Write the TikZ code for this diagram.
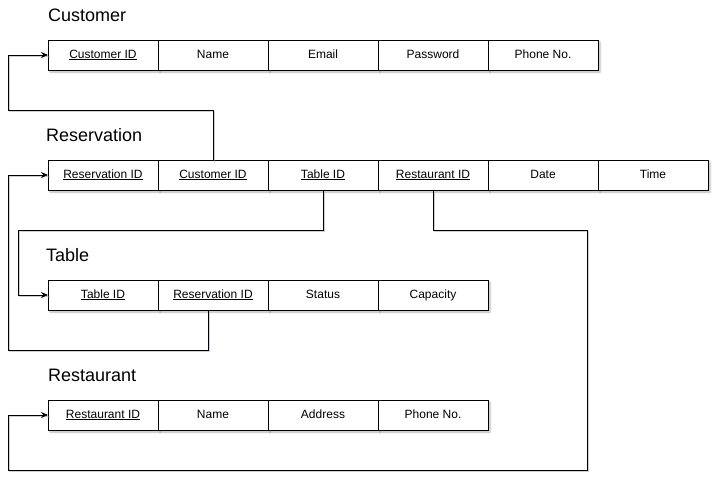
\documentclass[tikz,border=0pt]{standalone}
\usepackage{fontspec}
\setmainfont{Liberation Sans}
\usetikzlibrary{
    arrows.meta,
    positioning,
    shadows.blur
}
\definecolor{dark}{HTML}{000000}
\definecolor{shade}{HTML}{9CA3AF}
\newcommand{\pk}[1]{\underline{#1}}
\tikzset{
    % Attribute cell style
    attr/.style={
        rectangle,
        draw=dark,
        fill=white,
        line width=0.8pt,
        minimum width=110pt,
        minimum height=30pt,
        inner sep=0pt,
        outer sep=0pt,
        text height=8.6pt,
        text depth=2.4pt,
        font=\fontsize{12}{14}\selectfont,
        blur shadow={shadow xshift=2pt, shadow yshift=-2pt, shadow blur radius=2pt, shadow opacity=30}
    },
    % Entity title style
    entity title/.style={
        anchor=west,
        inner sep=0pt,
        font=\fontsize{18}{21}\selectfont,
        text=dark
    },
    % Foreign key connector
    fk/.style={
        -{Stealth[length=7pt, width=6pt]},
        line width=0.8pt,
        color=dark,
        preaction={draw=shade, draw opacity=0.5, line width=1.4pt, arrows=-,
            transform canvas={xshift=1.5pt, yshift=-1.5pt}}
    }
}

\begin{document}
\begin{tikzpicture}[x=1pt, y=-1pt]
        \useasboundingbox (0,0) rectangle (719,490);

        % Customer
        \node[entity title] (cust-title) at (48,15) {Customer};
        \node[attr] (cust-id) at (103,55) {\pk{Customer ID}};
        \node[attr, right=0pt of cust-id] (cust-name) {Name};
        \node[attr, right=0pt of cust-name] (cust-email) {Email};
        \node[attr, right=0pt of cust-email] (cust-pass) {Password};
        \node[attr, right=0pt of cust-pass] (cust-phone) {Phone No.};

        % Reservation
        \node[entity title] (res-title) at (46,135) {Reservation};
        \node[attr] (res-id) at (103,175) {\pk{Reservation ID}};
        \node[attr, right=0pt of res-id] (res-cust) {\pk{Customer ID}};
        \node[attr, right=0pt of res-cust] (res-table) {\pk{Table ID}};
        \node[attr, right=0pt of res-table] (res-rest) {\pk{Restaurant ID}};
        \node[attr, right=0pt of res-rest] (res-date) {Date};
        \node[attr, right=0pt of res-date] (res-time) {Time};

        % Table
        \node[entity title] (tab-title) at (46,255) {Table};
        \node[attr] (tab-id) at (103,295) {\pk{Table ID}};
        \node[attr, right=0pt of tab-id] (tab-res) {\pk{Reservation ID}};
        \node[attr, right=0pt of tab-res] (tab-status) {Status};
        \node[attr, right=0pt of tab-status] (tab-cap) {Capacity};

        % Restaurant
        \node[entity title] (rest-title) at (48,375) {Restaurant};
        \node[attr] (rest-id) at (103,415) {\pk{Restaurant ID}};
        \node[attr, right=0pt of rest-id] (rest-name) {Name};
        \node[attr, right=0pt of rest-name] (rest-addr) {Address};
        \node[attr, right=0pt of rest-addr] (rest-phone) {Phone No.};

        % Connections
        \coordinate (rest-loop) at (587,470);
        \draw[fk] (res-cust.north) -- ++(0,-50) -| ([xshift=-40pt]cust-id.west) -- (cust-id.west);
        \draw[fk] (res-table.south) -- ++(0,40) -| ([xshift=-30pt]tab-id.west) -- (tab-id.west);
        \draw[fk] ([xshift=-5pt]tab-res.south) -- ++(0,40) -| ([xshift=-40pt]res-id.west) -- (res-id.west);
        \draw[fk] (res-rest.south) -- ++(0,40) -| (rest-loop) -| ([xshift=-40pt]rest-id.west) -- (rest-id.west);

    \end{tikzpicture}
\end{document}
